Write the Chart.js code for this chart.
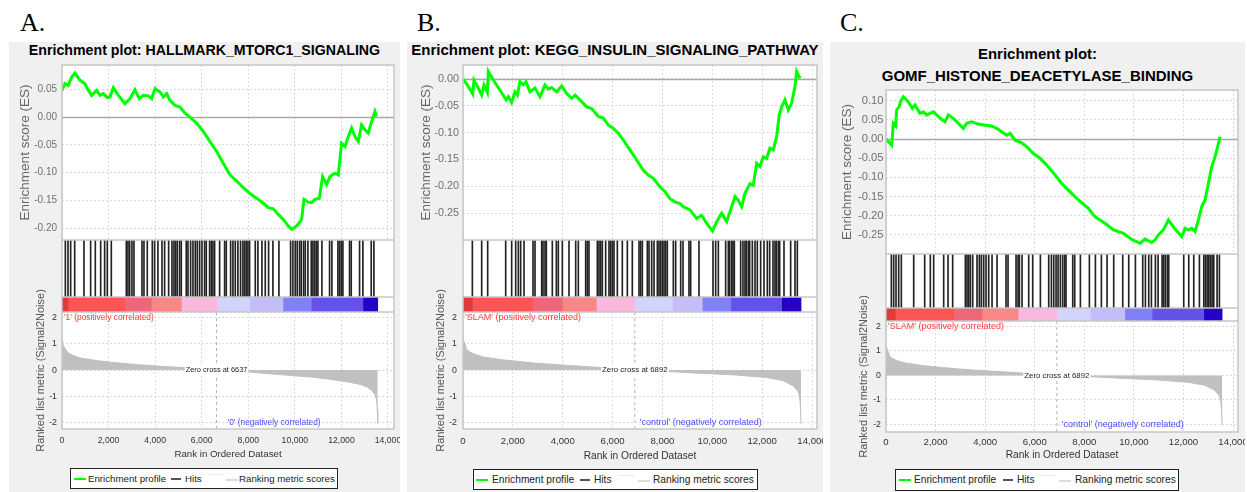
<!DOCTYPE html>
<html>
<head>
<meta charset="utf-8">
<script src="https://cdn.jsdelivr.net/npm/chart.js@4.4.1/dist/chart.umd.min.js"></script>
<style>
  body { margin: 0; width: 1247px; height: 492px; background: #fff; position: relative; overflow: hidden;
         font-family: "Liberation Sans", Arial, Helvetica, sans-serif; }
  .box { position: absolute; background: #f0f0f0; }
  .letter { position: absolute; font: 26px "Liberation Serif", "Times New Roman", serif; line-height: 1; color: #000; }
  .title { position: absolute; text-align: center; font-weight: bold; color: #000; white-space: nowrap; }
  canvas { position: absolute; }
  .legend { position: absolute; background: #fff; border: 1px solid #222; box-sizing: border-box; color: #222; }
  .legend span { position: absolute; white-space: nowrap; }
</style>
</head>
<body>
<script>
// ---- data ----
const rankTicks = [0, 2000, 4000, 6000, 8000, 10000, 12000, 14000];
const metricTicks = [2, 1, 0, -1, -2];

const esTicksA = [0.05, 0, -0.05, -0.10, -0.15, -0.20];
const esTicksB = [0, -0.05, -0.10, -0.15, -0.20, -0.25];
const esTicksC = [0.10, 0.05, 0, -0.05, -0.10, -0.15, -0.20, -0.25];

const esRankA = [0,128,272,415,558,773,988,1088,1274,1489,1632,1775,1947,2061,2204,2419,2705,2920,3135,3321,3493,3707,3850,3993,4208,4351,4494,4638,4852,5067,5282,5496,5782,6068,6355,6641,6927,7214,7500,7786,8001,8216,8431,8645,8860,9075,9289,9504,9719,9862,10077,10292,10392,10578,10721,10864,11050,11193,11365,11508,11723,11866,12009,12152,12295,12438,12581,12724,12867,13010,13153,13296,13440,13511];
const esScoreA = [0.048,0.060,0.057,0.072,0.079,0.066,0.060,0.051,0.039,0.048,0.039,0.042,0.035,0.036,0.053,0.039,0.024,0.033,0.049,0.033,0.039,0.038,0.033,0.051,0.045,0.036,0.042,0.030,0.021,0.018,0.007,0.000,-0.011,-0.026,-0.044,-0.062,-0.083,-0.104,-0.115,-0.127,-0.135,-0.142,-0.148,-0.155,-0.163,-0.165,-0.175,-0.184,-0.196,-0.202,-0.196,-0.184,-0.148,-0.153,-0.154,-0.148,-0.146,-0.107,-0.121,-0.107,-0.101,-0.104,-0.047,-0.053,-0.035,-0.020,-0.035,-0.044,-0.014,-0.023,-0.029,-0.008,0.010,0.001];

const esRankB = [0,214,388,441,615,749,842,976,1016,1217,1484,1725,1818,1952,2086,2179,2286,2420,2527,2687,2888,3088,3289,3423,3556,3757,3957,4158,4359,4492,4693,4960,5161,5428,5629,5829,6030,6230,6431,6698,6966,7233,7434,7634,7901,8102,8302,8503,8704,8837,9105,9372,9573,9773,10014,10174,10375,10576,10776,10910,11044,11177,11311,11512,11645,11779,11913,12046,12180,12314,12447,12581,12688,12782,12915,13049,13183,13316,13383,13517];
const esScoreB = [0,-0.014,-0.028,-0.002,-0.017,-0.030,-0.011,-0.025,0.014,-0.002,-0.021,-0.039,-0.033,-0.044,-0.024,-0.030,-0.005,-0.011,-0.005,-0.024,-0.017,-0.033,-0.011,-0.019,-0.016,-0.024,-0.013,-0.027,-0.036,-0.030,-0.039,-0.052,-0.055,-0.070,-0.073,-0.086,-0.092,-0.101,-0.114,-0.132,-0.151,-0.170,-0.179,-0.185,-0.201,-0.210,-0.223,-0.229,-0.232,-0.238,-0.244,-0.260,-0.254,-0.269,-0.283,-0.266,-0.250,-0.266,-0.238,-0.219,-0.226,-0.238,-0.213,-0.195,-0.198,-0.157,-0.163,-0.145,-0.148,-0.129,-0.132,-0.107,-0.067,-0.052,-0.039,-0.058,-0.045,-0.014,0.014,0.001];

const esRankC = [0,229,296,390,431,525,606,700,902,1063,1171,1372,1507,1641,1776,1910,2045,2247,2381,2516,2717,2919,3121,3255,3457,3726,3995,4264,4466,4668,4869,5004,5206,5474,5676,5945,6214,6483,6820,7089,7425,7761,8165,8434,8837,9173,9577,9913,10249,10451,10720,10855,10989,11191,11393,11635,11931,12065,12200,12334,12469,12603,12738,12872,13007,13141,13276,13343,13477];
const esScoreC = [0,-0.016,0.041,0.034,0.076,0.084,0.101,0.110,0.097,0.080,0.089,0.067,0.071,0.063,0.067,0.071,0.063,0.051,0.045,0.063,0.054,0.041,0.028,0.041,0.045,0.039,0.036,0.034,0.028,0.019,0.010,0.015,-0.003,-0.010,-0.020,-0.038,-0.050,-0.068,-0.094,-0.116,-0.138,-0.159,-0.181,-0.203,-0.220,-0.237,-0.246,-0.262,-0.272,-0.261,-0.270,-0.263,-0.250,-0.237,-0.211,-0.233,-0.255,-0.233,-0.237,-0.233,-0.241,-0.211,-0.176,-0.159,-0.115,-0.072,-0.046,-0.029,0.006];

const hitsA = [143,257,372,544,944,1230,1431,1660,1831,1946,2118,2762,2833,2905,3005,3091,3434,3520,3663,3878,3978,4121,4293,4407,4579,4722,4808,4880,4951,5051,5123,5337,5409,5523,5624,5724,5810,5910,6010,6124,6196,6339,6411,6482,6554,6769,6983,7055,7241,7341,7441,7555,7670,7770,7842,7913,7985,8056,8300,8414,8586,8729,8872,9058,9316,9817,9917,10017,10103,10203,10275,10375,10447,10561,10704,10776,10847,10919,10990,11162,11491,11591,11849,11920,11992,12063,12349,12421,12779,12922,13279,13394];
const hitsB = [375,749,990,1712,1953,2113,2220,2313,2447,2808,2888,3156,3209,3289,3343,3583,3744,3824,3985,4252,4520,4626,4921,4987,5054,5389,5455,5522,5589,5723,5857,5923,5990,6057,6191,6391,6592,6792,7060,7127,7194,7394,7461,7568,7662,7796,7862,7929,7996,8063,8129,8196,8437,8531,8731,8825,9065,9132,9466,10028,10135,10242,10536,10643,10696,10777,10830,10884,11138,11231,11311,11365,11445,11499,11606,11713,11806,11940,12074,12207,12301,12435,12515,12568,12648,12702,12876,13143,13317,13411];
const hitsC = [216,310,404,512,619,1117,1561,1789,1924,2327,2502,2690,3202,3269,3336,3403,3497,3672,3766,3847,3941,4035,4143,4278,4479,4842,4923,5246,5327,5380,5488,5757,5918,6228,6564,6672,6766,6860,6941,7035,7129,7210,7263,7533,7613,7842,8205,8447,8689,8918,9186,9550,9792,10061,10357,10465,10599,10707,10868,10976,11137,11204,11272,11352,11406,12011,12213,12415,12643,12818,12885,12953,13020,13087,13154,13222,13356,13450];

// colour-bar band edges (rank)
const bandsA = [0, 257, 2690, 3835, 5123, 6668, 8056, 9488, 10704, 12922, 13560];
const bandsB = [0, 375, 2808, 3985, 5348, 6899, 8397, 9600, 10737, 12782, 13560];
const bandsC = [0, 377, 2731, 3874, 5327, 6900, 8245, 9631, 10733, 12818, 13560];

const metricRankA = [0,57,129,272,486,773,1488,2204,2919,3635,4350,5066,5781,6637,7212,7928,8643,9359,10074,10790,11505,12221,12793,13079,13294,13437,13508,13540,13560];
const metricA = [1.19,0.94,0.81,0.65,0.55,0.46,0.36,0.29,0.23,0.18,0.14,0.10,0.06,0.0,-0.03,-0.06,-0.12,-0.17,-0.22,-0.27,-0.35,-0.44,-0.54,-0.63,-0.76,-0.92,-1.12,-1.5,-2.01];
const metricRankBC = [0,80,147,281,481,816,1484,2821,4158,5495,6892,8169,9506,10843,12180,12849,13249,13450,13517,13540,13560];
const metricBC = [1.17,1.0,0.78,0.68,0.59,0.50,0.40,0.27,0.18,0.10,0.0,-0.05,-0.12,-0.18,-0.28,-0.40,-0.60,-0.82,-1.14,-1.5,-2.04];

const zeroCrossA = 6637;
const zeroCrossBC = 6892;

// ---- styles ----
const FONT = '"Liberation Sans", Arial, Helvetica, sans-serif';
Chart.defaults.font.family = FONT;
const bandColors = ['#e03a3a', '#ff5454', '#ef6679', '#fa8686', '#fbb8df', '#d3d3fb', '#c3befa', '#8080f8', '#6451ec', '#2600c6'];
const gridColor = '#dcdcdc';
const dashed = { display: false, dash: [2, 2] };

const fixY = w => s => { s.width = w; s.paddingTop = 0; s.paddingBottom = 0; };
const fixX = h => s => { s.height = h; s.paddingLeft = 0; s.paddingRight = 0; };

const plotBg = {
  id: 'plotBg',
  beforeDraw(chart) {
    const { ctx, chartArea: a } = chart;
    ctx.save();
    ctx.fillStyle = '#fff';
    ctx.fillRect(a.left, a.top, a.width, a.height);
    ctx.restore();
  },
  afterDraw(chart) {
    const { ctx, chartArea: a } = chart;
    ctx.save();
    ctx.strokeStyle = '#c6c6c6';
    ctx.lineWidth = 1.5;
    ctx.strokeRect(a.left, a.top, a.width, a.height);
    ctx.restore();
  }
};

const zeroLine = {
  id: 'zeroLine',
  beforeDatasetsDraw(chart) {
    const { ctx, chartArea: a, scales: { y } } = chart;
    const py = Math.round(y.getPixelForValue(0)) + 0.5;
    ctx.save();
    ctx.strokeStyle = '#a8a8a8';
    ctx.lineWidth = 1.5;
    ctx.beginPath();
    ctx.moveTo(a.left, py);
    ctx.lineTo(a.right, py);
    ctx.stroke();
    ctx.restore();
  }
};

const metricLabels = {
  id: 'metricLabels',
  afterDatasetsDraw(chart, args, o) {
    const { ctx, chartArea: a, scales: { x, y } } = chart;
    ctx.save();
    ctx.textBaseline = 'middle';
    ctx.font = o.size + 'px ' + FONT;
    ctx.textAlign = 'left';
    ctx.fillStyle = '#ff3a3a';
    ctx.fillText(o.pos, a.left + 2, y.getPixelForValue(2));
    ctx.fillStyle = '#4a4aff';
    ctx.fillText(o.neg, x.getPixelForValue(o.zc) + o.negOff, y.getPixelForValue(-2));
    ctx.font = o.zSize + 'px ' + FONT;
    const txt = 'Zero cross at ' + o.zc;
    const zx = x.getPixelForValue(o.zc), zy = y.getPixelForValue(0);
    const w = ctx.measureText(txt).width;
    ctx.fillStyle = '#fff';
    ctx.fillRect(zx - w / 2 - 1, zy - 5, w + 2, 10);
    ctx.fillStyle = '#222';
    ctx.textAlign = 'center';
    ctx.fillText(txt, zx, zy);
    ctx.restore();
  }
};

function addEl(cls, css, html) {
  const d = document.createElement('div');
  d.className = cls;
  Object.assign(d.style, css);
  if (html !== undefined) d.innerHTML = html;
  document.body.appendChild(d);
  return d;
}

function addCanvas(left, top, w, h) {
  const c = document.createElement('canvas');
  c.width = w; c.height = h;
  Object.assign(c.style, { left: left + 'px', top: top + 'px', width: w + 'px', height: h + 'px' });
  document.body.appendChild(c);
  return c;
}

const baseOpts = { responsive: false, animation: false, events: [] };
const noPlugins = { legend: { display: false }, tooltip: { enabled: false } };

function buildPanel(p) {
  const W = p.boxR - p.boxL;
  const yW = p.plotL - p.boxL;
  const padR = p.boxR - p.plotR;

  addEl('box', { left: p.boxL + 'px', top: '42px', width: W + 'px', height: '450px' });
  addEl('letter', { left: p.letterX + 'px', top: '10px' }, p.letter);
  addEl('title', { left: p.boxL + 'px', width: W + 'px', top: p.titleTop + 'px',
                   fontSize: p.titleSize + 'px', lineHeight: p.titleLH + 'px' }, p.title);

  const rankScale = (h, extra) => Object.assign({
    type: 'linear', min: 0, max: p.xmax, offset: false,
    afterBuildTicks: s => { s.ticks = rankTicks.map(v => ({ value: v })); },
    afterFit: fixX(h)
  }, extra);

  // running enrichment score
  new Chart(addCanvas(p.boxL, p.esT - 3, W, p.esB - p.esT + 4), {
    type: 'line',
    data: { datasets: [{
      data: p.esRank.map((r, i) => ({ x: r, y: p.esScore[i] })),
      borderColor: '#00ff00', borderWidth: 3, pointRadius: 0, tension: 0
    }] },
    options: Object.assign({}, baseOpts, {
      layout: { padding: { left: 0, right: padR, top: 3, bottom: 1 } },
      plugins: noPlugins,
      scales: {
        x: rankScale(0, { ticks: { display: false }, grid: { color: gridColor, drawTicks: false }, border: dashed }),
        y: {
          min: p.esMin, max: p.esMax,
          afterBuildTicks: s => { s.ticks = p.esTicks.map(v => ({ value: v })); },
          afterFit: fixY(yW),
          ticks: { color: '#707070', padding: p.esTickPad, autoSkip: false, font: { size: p.esTickSize },
                   callback: v => v.toFixed(2) },
          grid: { color: gridColor, drawTicks: false },
          border: dashed,
          title: { display: true, text: 'Enrichment score (ES)', color: '#666', font: { size: 13.5 },
                   padding: { top: p.esTitleOff - 8.1, bottom: 0 } }
        }
      }
    }),
    plugins: [plotBg, zeroLine]
  });

  // ranked list metric (drawn first so the hit strip sits above its transparent top)
  new Chart(addCanvas(p.boxL, p.esB, W, p.metB + p.xAxisH - p.esB), {
    type: 'line',
    data: { datasets: [
      { data: p.metricRank.map((r, i) => ({ x: r, y: p.metric[i] })), fill: 'origin',
        backgroundColor: '#c0c0c0', borderColor: '#c0c0c0', borderWidth: 1, pointRadius: 0, tension: 0 },
      { data: [{ x: p.zc, y: p.metMin }, { x: p.zc, y: p.metMax }], fill: false,
        borderColor: '#b4b4b4', borderWidth: 1, borderDash: [3, 3], pointRadius: 0 }
    ] },
    options: Object.assign({}, baseOpts, {
      layout: { padding: { left: 0, right: padR, top: p.cbarB - p.esB, bottom: 0 } },
      plugins: Object.assign({}, noPlugins, {
        metricLabels: { pos: p.posLabel, neg: p.negLabel, zc: p.zc, size: p.labelSize, zSize: p.zSize, negOff: p.negOff }
      }),
      scales: {
        x: rankScale(p.xAxisH, {
          ticks: { color: '#333', padding: p.xTickPad, maxRotation: 0, autoSkip: false, font: { size: p.xTickSize },
                   callback: v => v.toLocaleString('en-US') },
          grid: { color: gridColor, drawTicks: false },
          border: dashed,
          title: { display: true, text: 'Rank in Ordered Dataset', color: '#333', font: { size: p.xTitleSize }, padding: 0 }
        }),
        y: {
          min: p.metMin, max: p.metMax,
          afterBuildTicks: s => { s.ticks = metricTicks.map(v => ({ value: v })); },
          afterFit: fixY(yW),
          ticks: { color: '#333', padding: p.metTickPad, autoSkip: false, font: { size: 8.8 } },
          grid: { color: gridColor, drawTicks: false },
          border: dashed,
          title: { display: true, text: 'Ranked list metric (Signal2Noise)', color: '#555', font: { size: 11 },
                   padding: { top: p.metTitleOff - 6.6, bottom: 0 } }
        }
      }
    }),
    plugins: [plotBg, metricLabels]
  });

  // gene set hits
  new Chart(addCanvas(p.boxL, p.esB, W, p.hitsB - p.esB), {
    type: 'bar',
    data: { datasets: [{ data: p.hits.map(r => ({ x: r, y: 1 })), backgroundColor: '#222', barThickness: 1, borderWidth: 0 }] },
    options: Object.assign({}, baseOpts, {
      layout: { padding: { left: 0, right: padR, top: 0, bottom: 0 } },
      plugins: noPlugins,
      scales: {
        x: rankScale(0, { ticks: { display: false }, grid: { display: false, offset: false }, border: { display: false } }),
        y: { min: 0, max: 1, afterFit: fixY(yW), ticks: { display: false }, grid: { display: false }, border: { display: false } }
      }
    }),
    plugins: [plotBg]
  });

  // colour bar of the ranked list
  new Chart(addCanvas(p.boxL, p.hitsB, W, p.cbarB - p.hitsB), {
    type: 'bar',
    data: {
      labels: [''],
      datasets: p.bands.slice(0, -1).map((s, i) => ({
        data: [[s, p.bands[i + 1]]], backgroundColor: bandColors[i], borderWidth: 0,
        grouped: false, barPercentage: 1, categoryPercentage: 1
      }))
    },
    options: Object.assign({}, baseOpts, {
      indexAxis: 'y',
      layout: { padding: { left: 0, right: padR, top: 0, bottom: 0 } },
      plugins: noPlugins,
      scales: {
        x: rankScale(0, { ticks: { display: false }, grid: { display: false }, border: { display: false } }),
        y: { afterFit: fixY(yW), ticks: { display: false }, grid: { display: false }, border: { display: false } }
      }
    }),
    plugins: [plotBg]
  });

  // legend
  const L = p.legend;
  const lg = addEl('legend', { left: L.l + 'px', top: L.t + 'px', width: L.w + 'px', height: L.h + 'px',
                               fontSize: p.legendSize + 'px' });
  const o = L.x;
  const line = (x, w, y, h, c) => {
    const s = document.createElement('span');
    Object.assign(s.style, { left: x + 'px', top: y + 'px', width: w + 'px', height: h + 'px', background: c });
    lg.appendChild(s);
  };
  const text = (x, t) => {
    const s = document.createElement('span');
    Object.assign(s.style, { left: x + 'px', top: '0px', lineHeight: (L.h - 2) + 'px' });
    s.textContent = t;
    lg.appendChild(s);
  };
  line(o[0], 12, 9, 2, '#00ff00');
  text(o[1], 'Enrichment profile');
  line(o[2], 10, 9, 2, '#555');
  text(o[3], 'Hits');
  line(o[4], 16, 5, 1, '#ececec');
  line(o[5], 12, 10, 2, '#dcdcdc');
  text(o[6], 'Ranking metric scores');
}

buildPanel({
  letter: 'A.', letterX: 20, title: 'Enrichment plot: HALLMARK_MTORC1_SIGNALING', titleTop: 43, titleSize: 14.2, titleLH: 14,
  boxL: 9, boxR: 400, plotL: 62, plotR: 394, esT: 65, esB: 240, hitsB: 297, cbarB: 312, metB: 429, xAxisH: 31,
  xmax: 14258, esMin: -0.221, esMax: 0.0935, metMin: -2.23, metMax: 2.2,
  esTicks: esTicksA, esRank: esRankA, esScore: esScoreA, hits: hitsA, bands: bandsA,
  metricRank: metricRankA, metric: metricA, zc: zeroCrossA,
  esTickPad: 5, esTickSize: 10, esTitleOff: 16, metTickPad: 5, metTitleOff: 31.7,
  xTickSize: 8.7, xTickPad: 6.8, xTitleSize: 9.7,
  posLabel: "'1' (positively correlated)", negLabel: "'0' (negatively correlated)", labelSize: 8.4, zSize: 7.4, negOff: 11,
  legendSize: 9.7, legend: { l: 70, t: 468, w: 268, h: 21, x: [3, 17, 100, 114, 137, 155, 168] }
});

buildPanel({
  letter: 'B.', letterX: 417, title: 'Enrichment plot: KEGG_INSULIN_SIGNALING_PATHWAY', titleTop: 42.3, titleSize: 15, titleLH: 15,
  boxL: 407, boxR: 823, plotL: 463, plotR: 817, esT: 65, esB: 240, hitsB: 297, cbarB: 312, metB: 429, xAxisH: 33,
  xmax: 14200, esMin: -0.300, esMax: 0.026, metMin: -2.23, metMax: 2.2,
  esTicks: esTicksB, esRank: esRankB, esScore: esScoreB, hits: hitsB, bands: bandsB,
  metricRank: metricRankBC, metric: metricBC, zc: zeroCrossBC,
  esTickPad: 4, esTickSize: 10.8, esTitleOff: 19, metTickPad: 6, metTitleOff: 34,
  xTickSize: 9.6, xTickPad: 6.2, xTitleSize: 10.2,
  posLabel: "'SLAM' (positively correlated)", negLabel: "'control' (negatively correlated)", labelSize: 9, zSize: 7.9, negOff: 5,
  legendSize: 10.2, legend: { l: 473, t: 469, w: 285, h: 21, x: [2, 18, 106, 120, 145, 164, 179] }
});

buildPanel({
  letter: 'C.', letterX: 840, title: 'Enrichment plot:<br>GOMF_HISTONE_DEACETYLASE_BINDING', titleTop: 42.5, titleSize: 15, titleLH: 22,
  boxL: 830, boxR: 1245, plotL: 886, plotR: 1238, esT: 90, esB: 254, hitsB: 308, cbarB: 321, metB: 432, xAxisH: 29,
  xmax: 14200, esMin: -0.300, esMax: 0.128, metMin: -2.31, metMax: 2.22,
  esTicks: esTicksC, esRank: esRankC, esScore: esScoreC, hits: hitsC, bands: bandsC,
  metricRank: metricRankBC, metric: metricBC, zc: zeroCrossBC,
  esTickPad: 2.5, esTickSize: 11.2, esTitleOff: 17, metTickPad: 5, metTitleOff: 34,
  xTickSize: 9.6, xTickPad: 4.2, xTitleSize: 10.2,
  posLabel: "'SLAM' (positively correlated)", negLabel: "'control' (negatively correlated)", labelSize: 9, zSize: 7.8, negOff: 5,
  legendSize: 10.2, legend: { l: 895, t: 469, w: 284, h: 22, x: [3, 18, 107, 121, 143, 163, 179] }
});
</script>
</body>
</html>
